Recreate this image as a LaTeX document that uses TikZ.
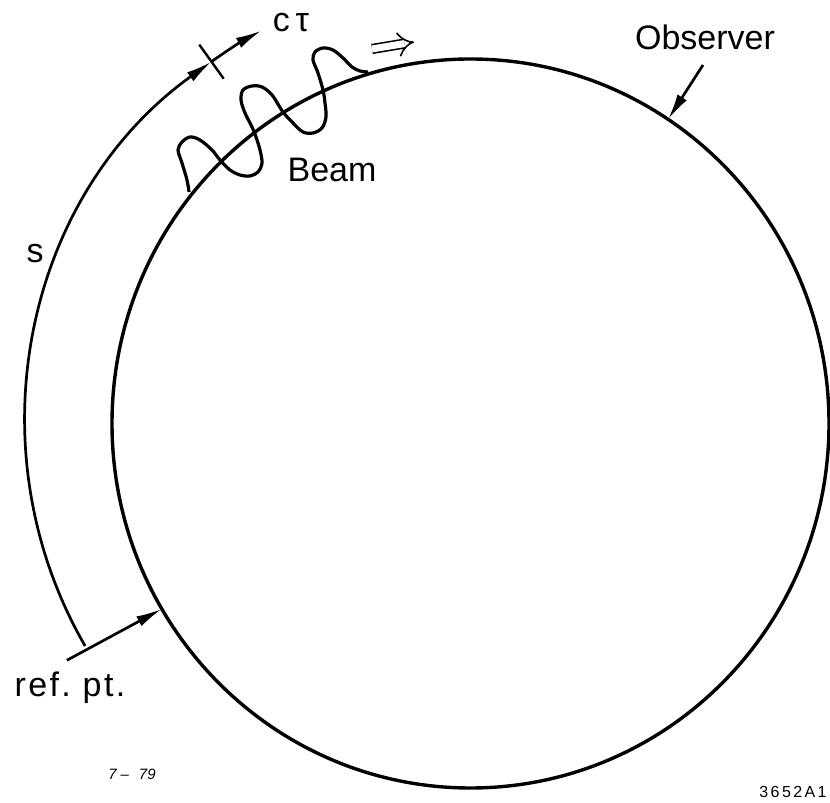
\documentclass[tikz,border=0pt]{standalone}
\usepackage{fontspec}
\setmainfont{Liberation Sans}
\usetikzlibrary{arrows.meta,calc,shapes.geometric}

\begin{document}
\begin{tikzpicture}[x=.5pt,y=.5pt,>={Latex[length=13pt,width=5.5pt]},
  flow/.style={->,line width=1.35pt},
  lbl/.style={anchor=base,inner sep=0pt,font=\fontsize{17}{20}\selectfont},
  tag/.style={anchor=base,inner sep=0pt,font=\fontsize{7.5}{9}\selectfont}]
\useasboundingbox (0,0) rectangle (830,803);
\coordinate (c) at (470.5,379.5);
% storage ring
\node[draw,ellipse,line width=1.7pt,inner sep=0pt,outer sep=0pt,
  minimum width=358.5pt,minimum height=364.5pt] (ring) at (c) {};
% path length s and bunch length c tau
\draw[flow] ($(c)+(210:445)$) arc[start angle=210,end angle=125.6,radius=445];
\draw[flow] ($(c)+(125.6:445)$) arc[start angle=125.6,end angle=118,radius=445];
\draw[line width=1.2pt] ($(c)+(125.6:424)$) -- ($(c)+(125.6:466)$);
% beam wave
\draw[line width=1.6pt,line join=round] plot[smooth,tension=.55] coordinates {
 (189,611) (187,623) (182,640) (178,653) (182,661) (190,666) (200,663)
 (212,653) (220,643) (230,633) (240,628) (250,627) (258,631) (262,640)
 (260,653) (256,666) (252,676) (245,690) (241,703) (243,713) (252,717)
 (262,716) (272,708) (283,691) (293,680) (303,671) (313,670) (322,675)
 (326,686) (325,700) (323,713) (318,730) (313,743) (315,751) (323,755)
 (333,753) (343,745) (352,736) (360,732) (368,731)};
\draw[double,double distance=3.5pt,line width=.8pt,-{Implies[scale=1.6]}]
  (372,754) -- (414,761);
% labels
\node[lbl] (obs) at (705,753) {Observer};
\node[lbl] (beam) at (332,621) {Beam};
\node[lbl] (ctau) at (291,771) {c\,τ};
\node[lbl] (slbl) at (35,540) {s};
\node[lbl,font=\fontsize{17}{20}\selectfont\addfontfeatures{LetterSpace=7}]
  (refl) at (70,106) {ref.\ pt.};
\node[tag,font=\fontsize{7.5}{9}\selectfont\itshape] (date) at (132,23)
  {7\hspace{2pt}--\hspace{5pt}79};
\node[tag,font=\fontsize{8}{9}\selectfont\addfontfeatures{LetterSpace=15}]
  (fig) at (793,5) {3652A1};
% pointers
\coordinate (reftail) at ($(c)+(210.4:468)$);
\draw[flow] (reftail) -- (ring.211);
\coordinate (obstail) at (703,738);
\draw[flow] (obstail) -- (ring.57);
\end{tikzpicture}
\end{document}
